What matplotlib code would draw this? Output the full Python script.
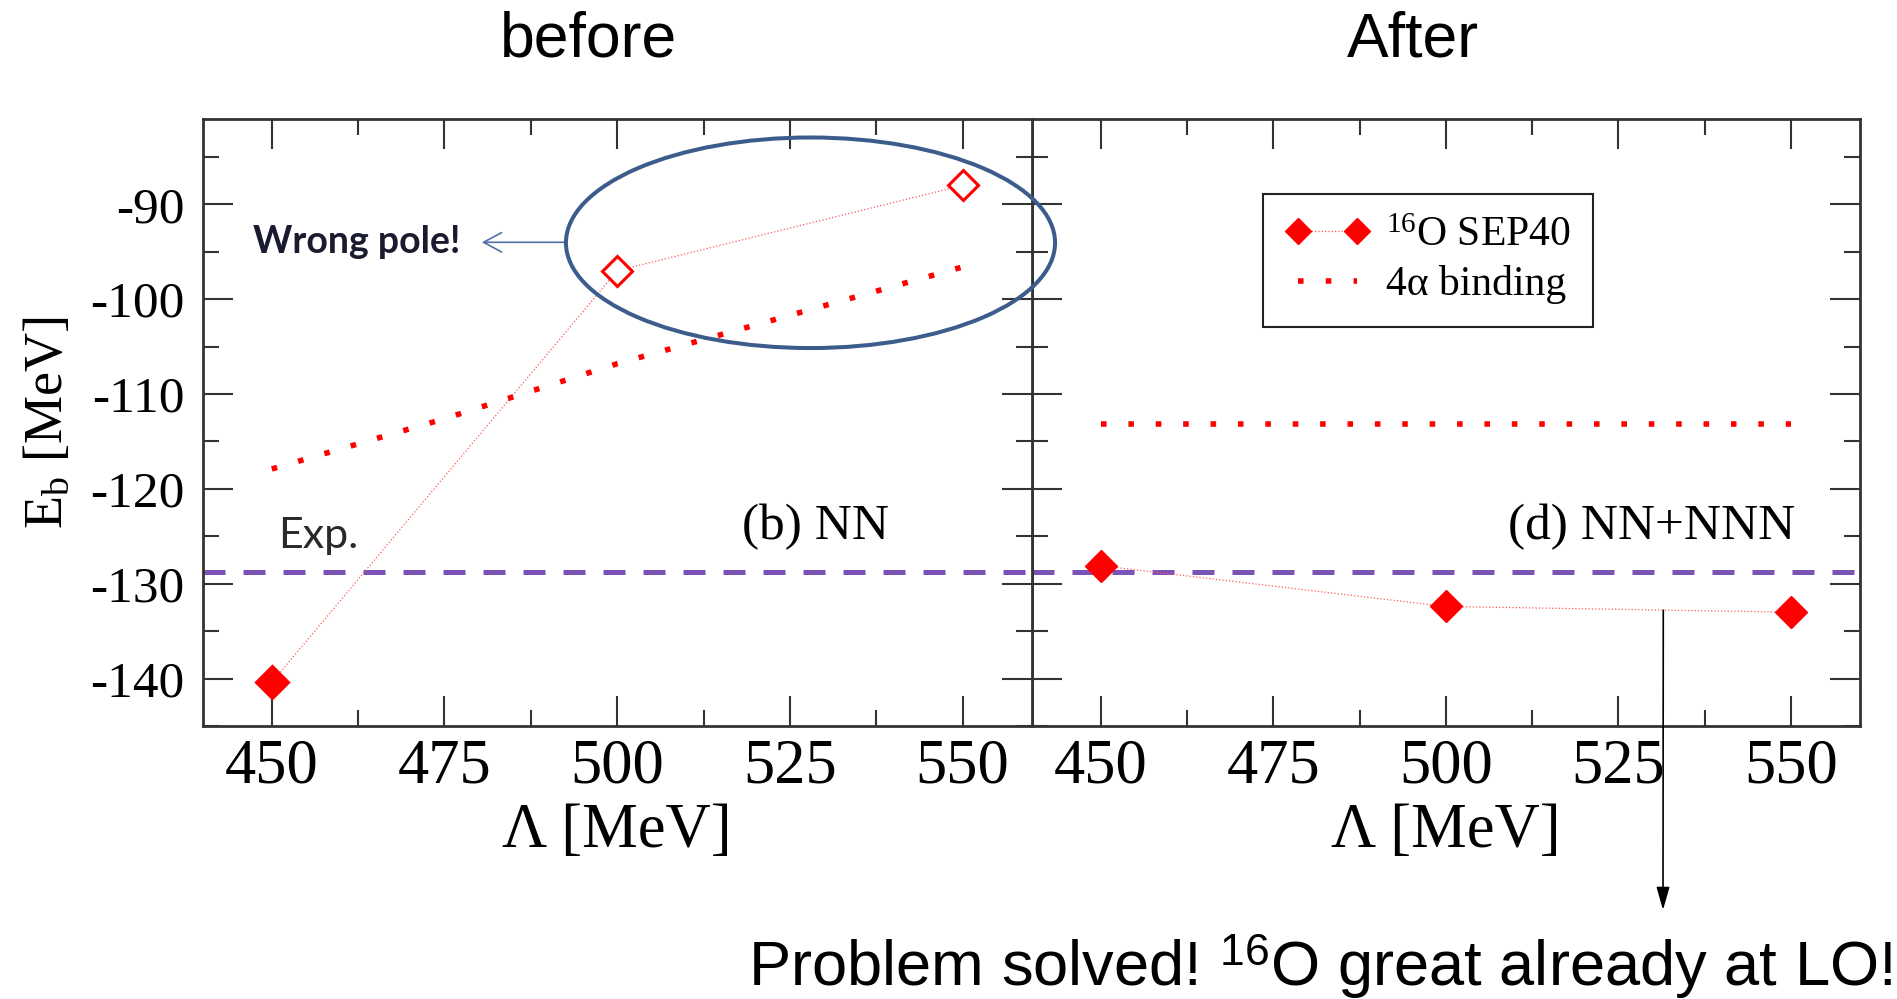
import matplotlib
matplotlib.use('Agg')
import matplotlib.pyplot as plt
from matplotlib.patches import Ellipse
from matplotlib.ticker import MultipleLocator
from matplotlib.lines import Line2D

plt.rcParams['font.family'] = ['Liberation Serif', 'DejaVu Serif']
plt.rcParams['mathtext.fontset'] = 'custom'
plt.rcParams['mathtext.rm'] = 'Liberation Serif'
plt.rcParams['mathtext.it'] = 'Liberation Serif:italic'
plt.rcParams['mathtext.bf'] = 'Liberation Serif:bold'
plt.rcParams['axes.unicode_minus'] = False

# ---------------- data ----------------
cutoffs = [450, 500, 550]
sep40_before = [-140.4, -97.0, -88.0]
sep40_before_filled = [True, False, False]
sep40_after = [-128.1, -132.4, -133.0]
alpha_cutoffs_before = [450, 475, 500, 525, 550]
alpha_before = [-117.9, -112.6, -106.8, -101.7, -96.6]
alpha_cutoffs_after = [450, 550]
alpha_after = [-113.2, -113.2]
exp_value = -128.8
xticks = [450, 475, 500, 525, 550]
yticks = [-140, -130, -120, -110, -100, -90]

RED = '#ff0000'
LRED = '#ff5a5a'
PURPLE = '#7b52b5'
BLUE = '#3c5d8c'
DOTS = (0, (1, 3.93))

W, H = 1897, 999
fig = plt.figure(figsize=(W / 100, H / 100), dpi=100)


def px(x0, y0, x1, y1):
    return [x0 / W, 1 - y1 / H, (x1 - x0) / W, (y1 - y0) / H]


ax1 = fig.add_axes(px(202.7, 119, 1031.7, 726))
ax2 = fig.add_axes(px(1031.7, 119, 1860, 726))
ax1.set_zorder(3)

for ax in (ax1, ax2):
    ax.set_xlim(440, 560)
    ax.set_ylim(-145, -81)
    ax.set_xticks(xticks)
    ax.xaxis.set_minor_locator(MultipleLocator(12.5))
    ax.set_yticks(yticks)
    ax.yaxis.set_minor_locator(MultipleLocator(5))
    ax.tick_params(which='both', direction='in', top=True, right=True,
                   width=1.5, color='#333333')
    ax.tick_params(which='major', length=21.6)
    ax.tick_params(which='minor', length=11.5)
    ax.tick_params(axis='x', labelsize=45, pad=9)
    ax.tick_params(axis='y', labelsize=37, pad=13)
    for s in ax.spines.values():
        s.set_linewidth(2)
        s.set_color('#333333')
    ax.axhline(exp_value, color=PURPLE, lw=3.6, dashes=(4.4, 3.6))
    ax.set_xlabel('Λ [MeV]', fontsize=45, labelpad=5)
ax2.tick_params(axis='y', labelleft=False)

ax1.set_ylabel(r'E$_\mathrm{b}$ [MeV]', fontsize=39, labelpad=12)

# ---------------- left panel ----------------
ax1.plot(cutoffs, sep40_before, ls=':', lw=0.9, color=LRED)
for x, y, f in zip(cutoffs, sep40_before, sep40_before_filled):
    ax1.plot([x], [y], marker='D', ls='none',
             ms=16 if f else 15, mfc=RED if f else 'white',
             mec=RED, mew=2.2)
ax1.plot(alpha_cutoffs_before, alpha_before, color=RED, lw=4, ls=DOTS)

# ---------------- right panel ----------------
ax2.plot(cutoffs, sep40_after, ls=':', lw=0.9, color=LRED)
ax2.plot(cutoffs, sep40_after, marker='D', ls='none', ms=16, mfc=RED,
         mec=RED, mew=1)
ax2.plot(alpha_cutoffs_after, alpha_after, color=RED, lw=4, ls=DOTS)

h1 = Line2D([], [], ls=':', lw=0.9, color=LRED, marker='D', ms=16,
            mfc=RED, mec=RED, mew=1)
h2 = Line2D([], [], color=RED, lw=4, ls=(0, (1, 4)))
leg = ax2.legend([h1, h2], [r'$^{\mathrm{16}}$O SEP40', '4α binding'],
                 loc='upper left', bbox_to_anchor=(0.279, 0.877),
                 borderaxespad=0, fontsize=30, numpoints=2,
                 handlelength=2.0, handletextpad=0.4, borderpad=0.55,
                 labelspacing=0.25, markerscale=0.8, fancybox=False,
                 framealpha=1, edgecolor='#222222')
leg.get_frame().set_linewidth(1.5)

# ---------------- annotations ----------------
ax1.text(539.3, -124.0, '(b) NN', fontsize=37, ha='right', va='center')
ax2.text(550.6, -124.0, '(d) NN+NNN', fontsize=37, ha='right', va='center')
ax1.text(450.9, -126.2, 'Exp.', fontsize=31, family='Lato', color='#2a2a2a',
         ha='left', va='baseline')

ell = Ellipse((527.98, -94.05), 70.8, 22.2, fill=False, ec=BLUE, lw=2.9,
              clip_on=False, zorder=6)
ax1.add_patch(ell)
ax1.annotate('', xy=(480.4, -94.0), xytext=(492.6, -94.0),
             arrowprops=dict(arrowstyle='->,head_length=1.3,head_width=0.7',
                             lw=1.2, color='#4f71a8', shrinkA=0, shrinkB=0,
                             mutation_scale=10))
ax1.text(447.3, -94.0, 'Wrong pole!', fontsize=27, family='Lato',
         weight='bold', color='#1b1b2f', ha='left', va='center')

ax2.annotate('', xy=(1663 / W, 1 - 910 / H), xycoords='figure fraction',
             xytext=(531.5, -132.8), textcoords='data',
             arrowprops=dict(arrowstyle='-|>,head_length=1.4,head_width=0.4',
                             lw=1.2, color='black', shrinkA=0, shrinkB=0,
                             mutation_scale=10),
             annotation_clip=False)

fig.text(589 / W, 1 - 40 / H, 'before', fontsize=45, family='Liberation Sans',
         ha='center', va='center')
fig.text(1413 / W, 1 - 40 / H, 'After', fontsize=45, family='Liberation Sans',
         ha='center', va='center')
fig.text(748 / W, 1 - 986 / H,
         r'Problem solved! $^{\mathregular{16}}$O great already at LO!',
         fontsize=45.5, family='Liberation Sans', ha='left', va='baseline')

fig.savefig('out.png', dpi=100)
